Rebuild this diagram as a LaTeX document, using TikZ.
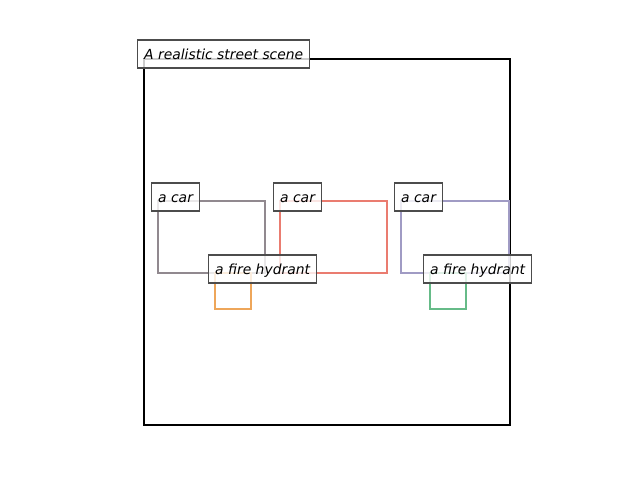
\documentclass[tikz,border=0pt]{standalone}
\usepackage{fontspec}
\setmainfont{DejaVu Sans}
\definecolor{cgray}{RGB}{145,137,143}
\definecolor{cred}{RGB}{234,124,112}
\definecolor{cpurple}{RGB}{160,155,196}
\definecolor{corange}{RGB}{238,166,90}
\definecolor{cgreen}{RGB}{102,187,136}
\begin{document}
\begin{tikzpicture}[x=0.72pt,y=-0.72pt,
  lbl/.style={draw=black!70, fill=white, fill opacity=0.8, text opacity=1, draw opacity=1,
    line width=0.75pt, font=\itshape\fontsize{10}{12}\selectfont, inner xsep=4.8pt, inner ysep=0pt,
    text height=8.8pt, text depth=1.2pt, minimum height=20.16pt, anchor=west},
  det/.style={line width=1.8pt}]
\useasboundingbox (0,0) rectangle (640,480);
\draw[line width=1.8pt] (144,59) rectangle (510,425);
\draw[det, cgray] (158,201) rectangle (265,273);
\draw[det, cred] (280,201) rectangle (387,273);
\draw[det, cpurple] (401,201) rectangle (509,273);
\draw[det, corange] (215,273) rectangle (251,309);
\draw[det, cgreen] (430,273) rectangle (466,309);
\node[lbl] (title) at (137,54) {A realistic street scene};
\node[lbl] (car1) at (151,197) {a car};
\node[lbl] (car2) at (273,197) {a car};
\node[lbl] (car3) at (394,197) {a car};
\node[lbl] (hyd1) at (208,269) {a fire hydrant};
\node[lbl] (hyd2) at (423,269) {a fire hydrant};
\end{tikzpicture}
\end{document}
